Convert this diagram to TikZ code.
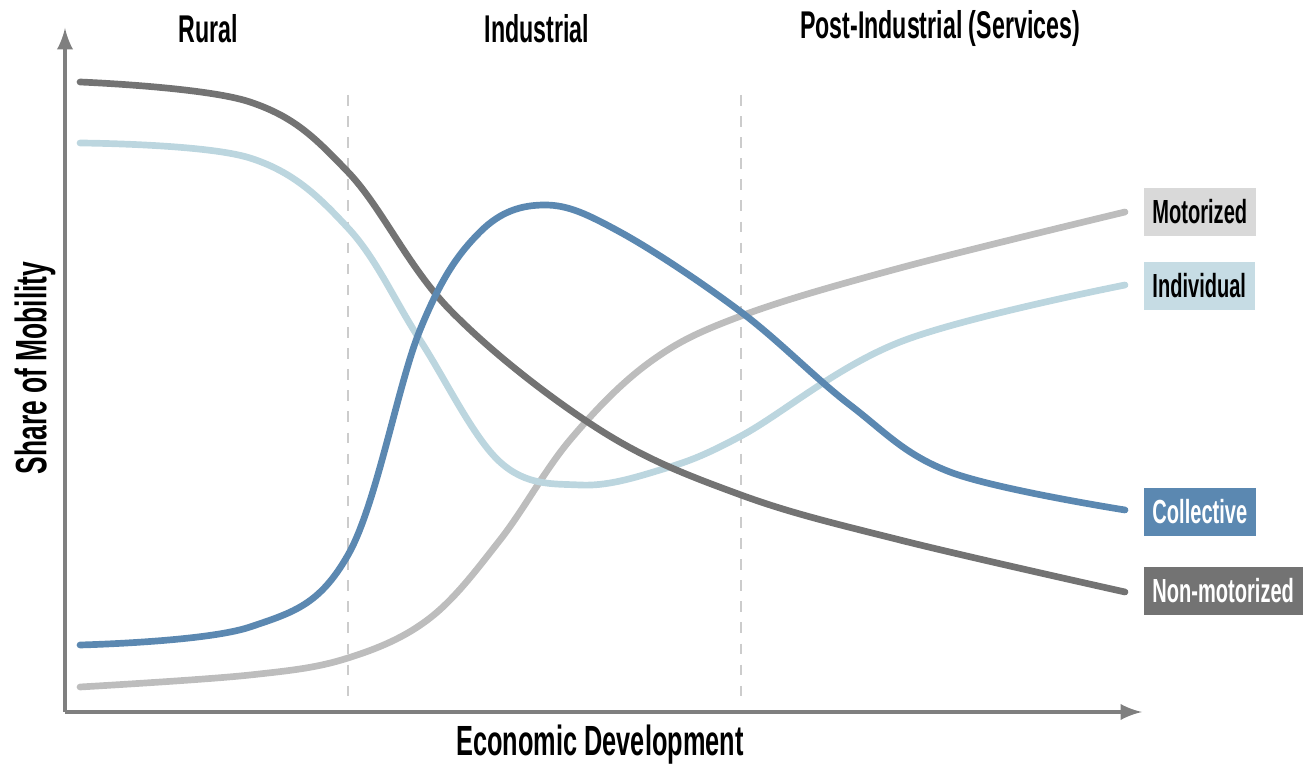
\documentclass[tikz,border=0pt]{standalone}
\usepackage{fontspec}
\setmainfont{Liberation Sans}[FakeStretch=0.6]
\usepackage{tikz}

\definecolor{nonmot}{HTML}{737373}
\definecolor{indiv}{HTML}{BCD6DF}
\definecolor{collec}{HTML}{5B88B1}
\definecolor{motor}{HTML}{BDBDBD}
\definecolor{axisgray}{HTML}{7F7F7F}

\begin{document}
\begin{tikzpicture}[
    x=0.01cm, y=-0.01cm,
    >=latex,
    curve/.style={line width=1.9pt, line cap=round},
    tag/.style={font=\bfseries\fontsize{9.5}{11}\selectfont, minimum height=0.4cm, inner xsep=2.5pt, anchor=west},
    heading/.style={font=\bfseries\fontsize{11}{13}\selectfont}
]
\useasboundingbox (0,0) rectangle (1308,764);

% Axes
\coordinate (origin) at (65,712);
\coordinate (ytip) at (65,28);
\coordinate (xtip) at (1142,712);
\draw[axisgray, line width=1.1pt, ->] (origin) -- (ytip);
\draw[axisgray, line width=1.1pt, ->] (origin) -- (xtip);

% Stage borders
\coordinate (b1top) at (348,95);
\coordinate (b1bot) at (348,700);
\coordinate (b2top) at (741,95);
\coordinate (b2bot) at (741,700);
\draw[black!20, line width=0.7pt, dashed] (b1top) -- (b1bot);
\draw[black!20, line width=0.7pt, dashed] (b2top) -- (b2bot);

% Stage titles
\node[heading] (rural) at (208,29) {Rural};
\node[heading] (industrial) at (537,29) {Industrial};
\node[heading] (postind) at (940,29) {Post-Industrial (Services)};

% Axis titles
\node[heading, font=\bfseries\fontsize{12.5}{14}\selectfont, rotate=90] (ytitle) at (35,368) {Share of Mobility};
\node[heading, font=\bfseries\fontsize{12}{14}\selectfont] (xtitle) at (600,745) {Economic Development};

% Curves
\draw[curve, motor] plot[smooth, tension=0.6] coordinates {
    (80,687) (250,675) (348,658) (430,618) (500,540) (570,440)
    (650,362) (741,316) (900,268) (1125,212)};
\draw[curve, indiv] plot[smooth, tension=0.6] coordinates {
    (80,143) (250,158) (348,228) (420,340) (500,462) (580,485)
    (660,470) (741,436) (900,342) (1125,285)};
\draw[curve, nonmot] plot[smooth, tension=0.6] coordinates {
    (80,82) (250,102) (348,172) (450,310) (600,430) (741,495)
    (900,540) (1125,592)};
\draw[curve, collec] plot[smooth, tension=0.6] coordinates {
    (80,645) (250,627) (348,555) (420,330) (480,232) (545,205)
    (620,232) (741,312) (850,405) (950,472) (1125,510)};

% Legend tags
\node[tag, fill=black!15] (motorized) at (1143,212) {Motorized};
\node[tag, fill=indiv!85] (individual) at (1143,286) {Individual};
\node[tag, fill=collec, text=white] (collective) at (1143,512) {Collective};
\node[tag, fill=nonmot, text=white, minimum height=0.46cm] (nonmotorized) at (1143,591) {Non-motorized};

\end{tikzpicture}
\end{document}
